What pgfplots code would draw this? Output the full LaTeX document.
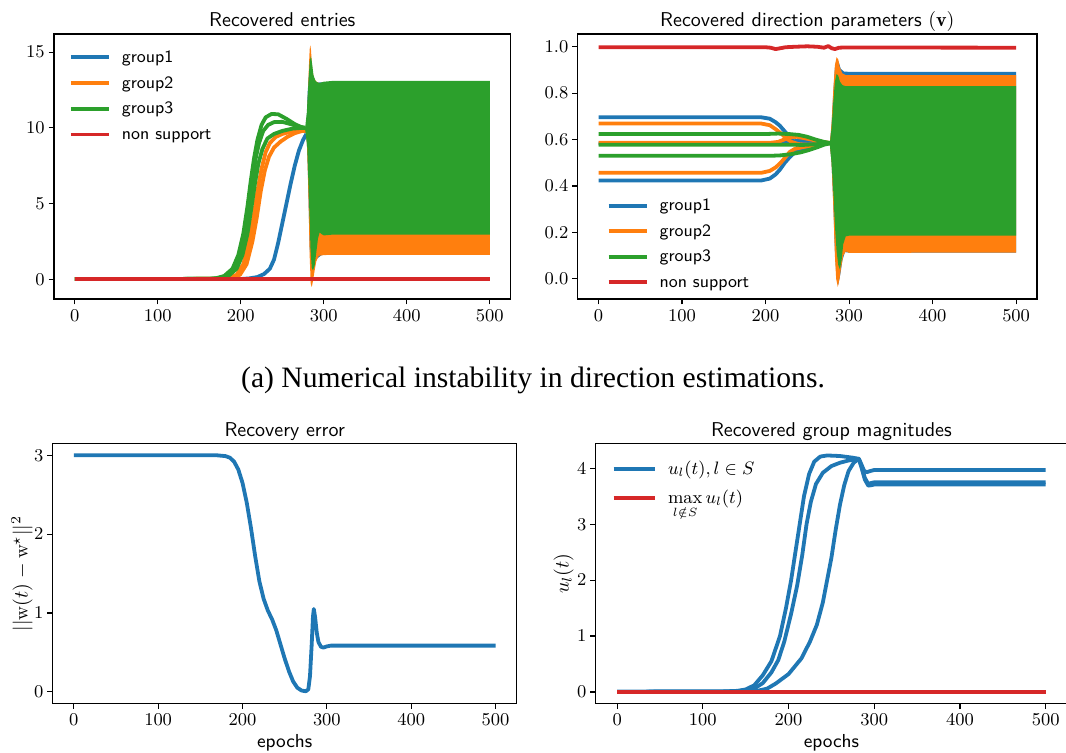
\documentclass[border=0pt]{standalone}
\usepackage{fontspec}
\usepackage{pgfplots}
\pgfplotsset{compat=1.18}
\newfontfamily\capfont{Liberation Serif}
\definecolor{tabblue}{HTML}{1F77B4}
\definecolor{taborange}{HTML}{FF7F0E}
\definecolor{tabgreen}{HTML}{2CA02C}
\definecolor{tabred}{HTML}{D62728}
\pgfplotsset{
  myaxis/.style={
    scale only axis, anchor=north west,
    xmin=-25, xmax=525, xtick={0,100,200,300,400,500},
    tick align=outside, tick pos=left, major tick length=2.7pt,
    axis line style={line width=0.6pt},
    every tick/.style={black, line width=0.6pt},
    tick label style={font=\fontsize{8.6}{10}\selectfont},
    xticklabel style={anchor=north, inner sep=0pt, yshift=-2.3pt},
    yticklabel style={anchor=east, inner sep=0pt, xshift=-1.8pt},
    every axis title/.style={at={(axis description cs:0.5,1)}, anchor=base, yshift=3.7pt, inner sep=0pt, font=\sffamily\fontsize{10}{12}\selectfont},
    every axis plot/.append style={line width=1.9pt, line join=round},
    legend image code/.code={\draw[##1, line width=1.9pt] (0pt,0pt) -- (19pt,0pt); \path[draw=none, fill=none] (0pt,-3pt) rectangle (25.5pt,3pt);},
    legend style={draw=none, fill=none, inner xsep=0pt, inner ysep=0pt, outer sep=0pt,
      at={(axis description cs:0,1)}, anchor=north west, column sep=0pt,
      cells={anchor=west},
      nodes={inner sep=0pt, text height=6.5pt, text depth=1.3pt, font=\sffamily\fontsize{8.7}{10}\selectfont}},
  },
  band/.style={draw=none, fill=#1, forget plot},
  xlab/.style={xlabel={epochs}, xlabel style={at={(axis description cs:0.5,0)}, anchor=base, yshift=-21.9pt, inner sep=0pt, font=\sffamily\fontsize{9.4}{11}\selectfont}},
}
\begin{document}
\begin{tikzpicture}
\useasboundingbox (0,0) rectangle (533pt,-376pt);
\clip (0,0) rectangle (533pt,-376pt);

% ---------------- Top left ----------------
\begin{axis}[myaxis, at={(27pt,-17pt)}, width=228.3pt, height=132.5pt,
  ymin=-1.3, ymax=16.2, ytick={0,5,10,15}, title={Recovered entries},
  legend style={xshift=7.5pt, yshift=-7.75pt, row sep=5.05pt}]
\addplot[tabblue] coordinates {(0,0.02) (200,0.02) (210,0.06) (220,0.15) (228,0.35) (235,0.7) (240,1.3) (245,2.4) (250,3.7) (255,5.0) (260,6.3) (265,7.5) (270,8.5) (275,9.2) (279,9.6)};
\addlegendentry{group1}
\addplot[band=tabblue] coordinates {(279,9.6) (280.5,12.3) (282,13.5) (285,13.6) (290,13.0) (500,13.0) (500,1.7) (300,1.7) (290,1.3) (286,0.3) (283,2.0) (280.5,8.0)};
\addplot[taborange] coordinates {(0,0.02) (175,0.03) (185,0.08) (195,0.3) (203,1.0) (210,2.5) (215,4.0) (220,5.8) (225,7.3) (230,8.4) (235,9.0) (242,9.4) (250,9.6) (260,9.75) (272,9.8) (279,9.8)};
\addlegendentry{group2}
\addplot[taborange, forget plot] coordinates {(0,0.02) (179,0.03) (189,0.08) (199,0.3) (207,1.0) (214,2.5) (219,4.0) (224,5.8) (229,7.2) (234,8.1) (240,8.7) (248,9.1) (256,9.4) (265,9.65) (274,9.8) (279,9.8)};
\addplot[band=taborange] coordinates {(279,9.8) (280.5,11.5) (282,14.0) (283,15.2) (283.8,15.45) (284.6,15.1) (286,13.9) (288,13.3) (291,13.05) (295,12.95) (300,13.0) (310,13.05) (500,13.05) (500,1.62) (310,1.62) (300,1.6) (294,1.55) (291,1.2) (289,0.6) (287,-0.1) (285.5,-0.5) (284.3,-0.3) (283,1.5) (281.5,5.5) (280,8.5) (279,9.6)};
\addplot[tabgreen] coordinates {(0,0.02) (160,0.03) (170,0.07) (180,0.22) (190,0.7) (197,1.6) (203,3.0) (208,4.8) (212,6.5) (216,8.0) (220,9.2) (225,10.2) (230,10.7) (237,10.92) (245,10.9) (255,10.6) (265,10.25) (273,10.05) (277.5,10.0)};
\addlegendentry{group3}
\addplot[tabgreen, forget plot] coordinates {(0,0.02) (162,0.03) (172,0.07) (182,0.22) (192,0.7) (199,1.6) (205,3.0) (210,4.8) (214,6.5) (218,8.0) (222,9.0) (227,9.8) (233,10.2) (240,10.38) (250,10.4) (260,10.25) (273,10.05) (277.5,10.0)};
\addplot[tabgreen, forget plot] coordinates {(0,0.02) (165,0.03) (175,0.07) (185,0.22) (195,0.7) (202,1.6) (208,3.0) (213,4.8) (217,6.3) (221,7.6) (226,8.6) (232,9.3) (240,9.6) (250,9.8) (262,9.95) (273,10.0) (277.5,10.0)};
\addplot[band=tabgreen] coordinates {(277.5,10.0) (279.5,11.0) (281.5,13.0) (283,14.4) (284.5,14.75) (286,14.2) (287.5,13.5) (290,13.1) (294,12.95) (300,13.05) (310,13.1) (500,13.1) (500,2.95) (310,2.95) (300,2.9) (297,3.0) (295,3.1) (293,2.7) (291,1.8) (289,0.9) (287,0.6) (285.5,0.75) (284,2.0) (282,5.5) (280,8.8) (277.5,9.9)};
\addplot[tabred] coordinates {(0,0.02) (500,0.02)};
\addlegendentry{non support}
\end{axis}

% ---------------- Top right ----------------
\begin{axis}[myaxis, at={(288.85pt,-17pt)}, width=229.65pt, height=132.5pt,
  ymin=-0.087, ymax=1.055, ytick={0,0.2,0.4,0.6,0.8,1.0},
  yticklabel style={/pgf/number format/fixed, /pgf/number format/fixed zerofill, /pgf/number format/precision=1},
  title={Recovered direction parameters $(\mathbf{v})$},
  legend style={xshift=14.5pt, yshift=-81.95pt, row sep=4.97pt}]
\addplot[tabblue] coordinates {(0,0.696) (195,0.696) (205,0.69) (212,0.675) (217,0.66) (223,0.635) (229,0.61) (235,0.585) (241,0.566) (247,0.56) (253,0.565) (262,0.575) (272,0.583) (278,0.585)};
\addlegendentry{group1}
\addplot[tabblue, forget plot] coordinates {(0,0.583) (210,0.583) (225,0.59) (240,0.595) (255,0.59) (270,0.586) (278,0.585)};
\addplot[tabblue, forget plot] coordinates {(0,0.424) (195,0.424) (205,0.432) (212,0.45) (217,0.47) (223,0.5) (229,0.525) (235,0.545) (241,0.556) (250,0.565) (262,0.575) (272,0.583) (278,0.585)};
\addplot[band=tabblue] coordinates {(277,0.585) (279,0.66) (281,0.8) (283,0.91) (285,0.945) (287.5,0.935) (290,0.905) (294,0.893) (300,0.892) (500,0.892) (500,0.113) (300,0.113) (295,0.115) (292,0.08) (289.5,0.02) (287,-0.025) (285,0.0) (283,0.12) (281,0.33) (279,0.5) (277,0.58)};
\addplot[taborange] coordinates {(0,0.669) (195,0.669) (205,0.662) (212,0.645) (219,0.625) (225,0.605) (231,0.59) (240,0.58) (250,0.578) (262,0.58) (272,0.584) (278,0.585)};
\addlegendentry{group2}
\addplot[taborange, forget plot] coordinates {(0,0.586) (205,0.586) (215,0.59) (222,0.6) (229,0.61) (237,0.612) (245,0.607) (255,0.6) (265,0.592) (278,0.585)};
\addplot[taborange, forget plot] coordinates {(0,0.457) (195,0.457) (205,0.465) (212,0.48) (218,0.5) (224,0.525) (229,0.547) (235,0.56) (245,0.568) (258,0.575) (270,0.582) (278,0.585)};
\addplot[band=taborange] coordinates {(277,0.585) (279,0.67) (281,0.81) (283,0.92) (285,0.955) (287,0.945) (289,0.91) (292,0.885) (296,0.878) (500,0.878) (500,0.113) (300,0.112) (296,0.118) (293,0.1) (290.5,0.05) (288.5,0.0) (286.5,-0.035) (284.5,0.0) (283,0.1) (281,0.32) (279,0.5) (277,0.58)};
\addplot[tabgreen] coordinates {(0,0.624) (200,0.624) (215,0.626) (228,0.624) (240,0.62) (250,0.612) (260,0.6) (270,0.59) (278,0.585)};
\addlegendentry{group3}
\addplot[tabgreen, forget plot] coordinates {(0,0.578) (230,0.578) (245,0.577) (260,0.58) (270,0.583) (278,0.585)};
\addplot[tabgreen, forget plot] coordinates {(0,0.53) (205,0.53) (218,0.532) (230,0.537) (242,0.545) (252,0.555) (262,0.567) (270,0.578) (278,0.585)};
\addplot[band=tabgreen] coordinates {(277,0.585) (279,0.65) (281,0.76) (283,0.85) (285,0.883) (287,0.875) (289,0.85) (292,0.835) (296,0.83) (500,0.83) (500,0.186) (300,0.186) (296,0.183) (293,0.15) (291,0.08) (289,0.04) (287,0.06) (285,0.12) (283,0.23) (281,0.38) (279,0.5) (277,0.575)};
\addplot[tabred] coordinates {(0,0.998) (200,0.998) (206,0.996) (212,0.99) (218,0.994) (224,0.998) (235,1.0) (250,1.002) (262,1.0) (270,0.996) (275,1.003) (279,0.994) (283,0.99) (288,0.996) (295,0.997) (500,0.996)};
\addlegendentry{non support}
\end{axis}

% ---------------- Bottom left ----------------
\begin{axis}[myaxis, xlab, at={(26.35pt,-221.75pt)}, width=232pt, height=130pt,
  ymin=-0.15, ymax=3.15, ytick={0,1,2,3}, title={Recovery error},
  ylabel={$||\mathrm{w}(t)-\mathrm{w}^\star||^2$},
  every axis y label/.style={at={(axis description cs:-0.066,0.5)}, rotate=90, anchor=center, inner sep=0pt, font=\fontsize{9.6}{11}\selectfont}]
\addplot[tabblue] coordinates {(0,3.0) (170,3.0) (180,2.99) (185,2.97) (190,2.92) (195,2.82) (200,2.65) (205,2.4) (210,2.08) (215,1.72) (220,1.40) (225,1.18) (230,1.03) (235,0.92) (240,0.78) (245,0.6) (250,0.42) (255,0.26) (260,0.13) (265,0.05) (270,0.015) (275,0.005) (278,0.03) (280,0.2) (282,0.6) (283.5,0.95) (284.5,1.05) (286,0.95) (288,0.75) (290,0.63) (293,0.57) (296,0.56) (300,0.575) (305,0.585) (500,0.585)};
\end{axis}

% ---------------- Bottom right ----------------
\begin{axis}[myaxis, xlab, at={(297.85pt,-221.85pt)}, width=235.7pt, height=130pt,
  ymin=-0.21, ymax=4.44, ytick={0,1,2,3,4}, title={Recovered group magnitudes},
  ylabel={$u_l(t)$},
  every axis y label/.style={at={(axis description cs:-0.068,0.5)}, rotate=90, anchor=center, inner sep=0pt, font=\fontsize{9.6}{11}\selectfont},
  legend image code/.code={\draw[#1, line width=1.9pt] (0pt,0pt) -- (20.5pt,0pt); \path[draw=none, fill=none] (0pt,-3pt) rectangle (27.2pt,3pt);},
  legend style={xshift=8pt, yshift=-8.9pt, row sep=6.7pt, nodes={font=\fontsize{9}{11}\selectfont}}]
\addplot[tabblue] coordinates {(0,0.005) (120,0.008) (140,0.02) (150,0.045) (160,0.12) (170,0.3) (180,0.55) (190,1.0) (197,1.5) (203,2.0) (208,2.5) (213,3.0) (218,3.5) (224,3.9) (230,4.12) (237,4.21) (245,4.23) (260,4.22) (275,4.19) (282,4.17) (285,4.07) (288,3.96) (291,3.93) (295,3.95) (300,3.97) (500,3.97)};
\addlegendentry{$u_l(t), l\in S$}
\addplot[tabblue, forget plot] coordinates {(0,0.005) (130,0.008) (150,0.025) (160,0.06) (170,0.16) (180,0.35) (188,0.57) (195,0.9) (203,1.4) (210,1.9) (216,2.45) (221,3.0) (226,3.4) (232,3.72) (240,3.92) (250,4.04) (260,4.1) (270,4.14) (282,4.17) (285,4.02) (289,3.8) (293,3.69) (297,3.7) (300,3.71) (500,3.71)};
\addplot[tabblue, forget plot] coordinates {(0,0.005) (150,0.008) (165,0.025) (175,0.06) (185,0.15) (200,0.32) (215,0.6) (225,0.9) (233,1.2) (240,1.6) (245,2.0) (250,2.4) (255,2.9) (260,3.35) (265,3.7) (270,3.95) (276,4.1) (282,4.17) (285,4.04) (289,3.83) (293,3.72) (297,3.74) (300,3.75) (500,3.75)};
\addplot[tabred] coordinates {(0,0.005) (500,0.005)};
\addlegendentry{$\displaystyle\max_{l\notin S} u_l(t)$}
\end{axis}

\node[font=\capfont\fontsize{14.8}{17}\selectfont, anchor=base, inner sep=0pt] at (266.5pt,-193.5pt) {(a) Numerical instability in direction estimations.};
\end{tikzpicture}
\end{document}
